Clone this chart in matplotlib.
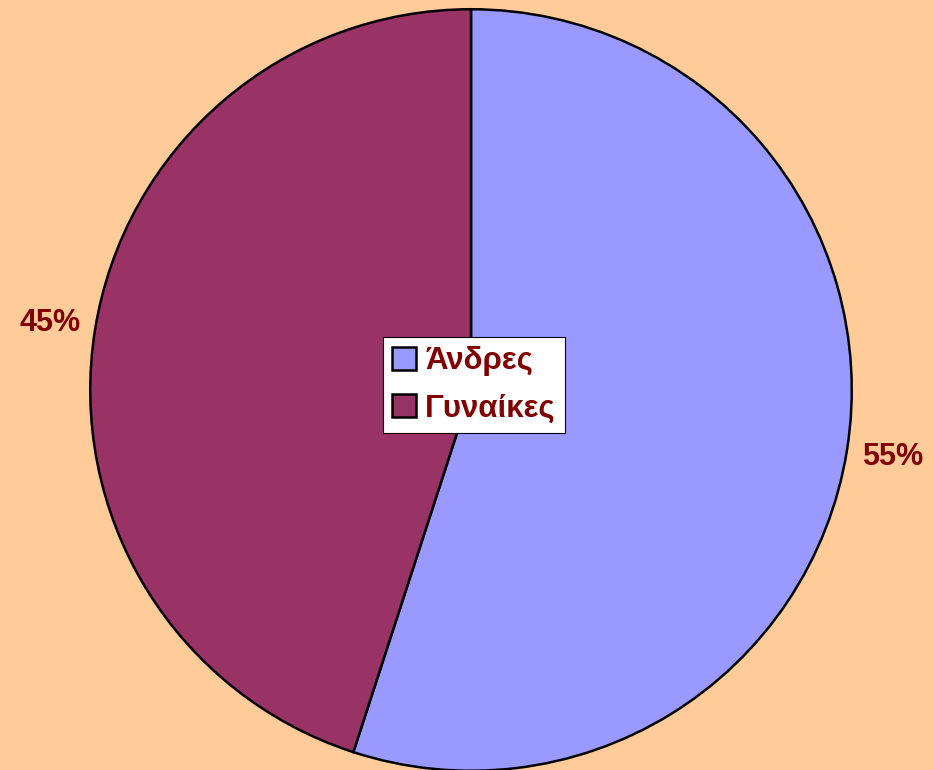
import matplotlib.pyplot as plt

# data
labels = ['Άνδρες', 'Γυναίκες']
values = [55, 45]
colors = ['#9999FF', '#993366']

plt.rcParams['font.family'] = ['Liberation Sans', 'DejaVu Sans']

fig = plt.figure(figsize=(9.34, 7.70), dpi=100, facecolor='#FFCC99')
ax = fig.add_axes([(471 - 380) / 934, 0, 760 / 934, 760 / 770])
ax.set_facecolor('#FFCC99')

wedges, texts, autotexts = ax.pie(values, colors=colors, startangle=90, counterclock=False,
                                  autopct='%1.0f%%', pctdistance=1.12,
                                  wedgeprops=dict(edgecolor='black', linewidth=1.8))
for t in autotexts:
    t.set_color('#800000')
    t.set_fontsize(22)
    t.set_fontweight('bold')
ax.set_aspect('equal')
ax.set_xlim(-0.998, 0.998)
ax.set_ylim(-0.998, 0.998)

leg = ax.legend(wedges, labels, loc='center', bbox_to_anchor=(474 / 934, 385 / 770),
                bbox_transform=fig.transFigure, fancybox=False, framealpha=1,
                edgecolor='black', handlelength=0.75, handleheight=0.75, handletextpad=0.3,
                borderpad=0.3, labelspacing=0.55, borderaxespad=0,
                prop={'size': 22.5, 'weight': 'bold'})
leg.get_frame().set_linewidth(0.8)
for t in leg.get_texts():
    t.set_color('#800000')

fig.savefig('out.png', dpi=100, facecolor=fig.get_facecolor())
